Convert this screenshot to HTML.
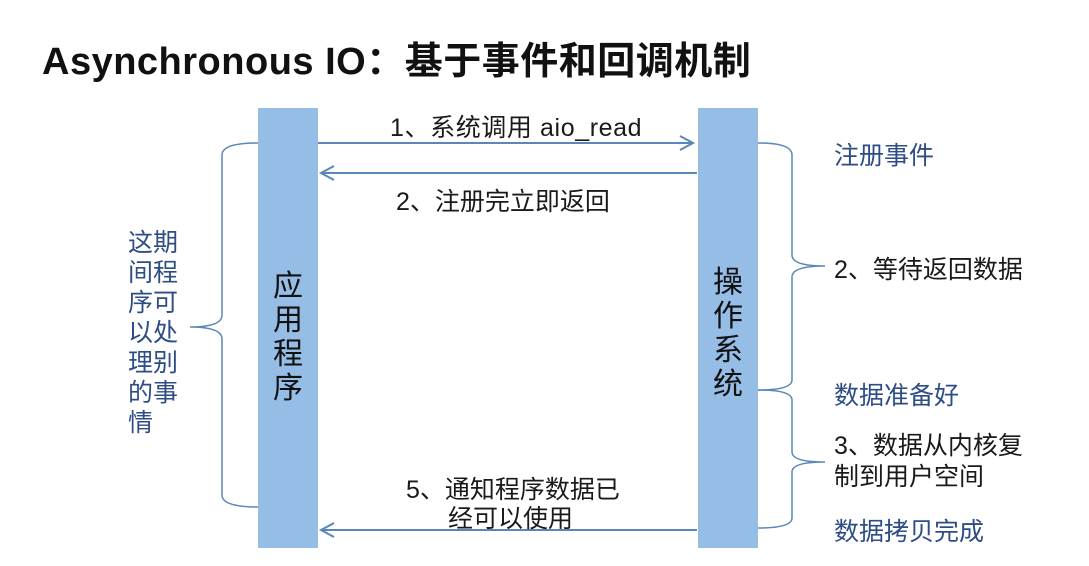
<!DOCTYPE html>
<html><head><meta charset="utf-8"><style>
body{margin:0;width:1089px;height:566px;background:#fff;position:relative;overflow:hidden;font-family:"Liberation Sans","Noto Sans CJK SC",sans-serif;}
.t{position:absolute;white-space:nowrap;color:#1a1a1a;font-size:25px;}
.b{color:#2e4d85;}
.bar{position:absolute;background:#95bde6;width:60px;top:108px;height:440px;}
.vt{position:absolute;font-size:30px;line-height:34px;width:60px;text-align:center;color:#111;}
</style></head><body>
<div class="t" style="left:42px;top:30px;font-size:38px;font-weight:bold;color:#111;letter-spacing:0.5px;">Asynchronous IO：基于事件和回调机制</div>
<div class="bar" style="left:258px;"></div>
<div class="bar" style="left:698px;"></div>
<div class="vt" style="left:258px;top:270px;">应<br>用<br>程<br>序</div>
<div class="vt" style="left:698px;top:266px;">操<br>作<br>系<br>统</div>
<svg width="1089" height="566" style="position:absolute;left:0;top:0" fill="none" stroke="#5b86b8" stroke-width="2">
<line x1="318" y1="143" x2="692" y2="143"/><polyline points="680,136 693,143 680,150"/>
<line x1="697" y1="173" x2="322" y2="173"/><polyline points="334,166 321,173 334,180"/>
<line x1="697" y1="530" x2="322" y2="530"/><polyline points="334,523 321,530 334,537"/>
<path d="M258,143 Q222,143 222,155 L222,315 Q222,327 190,327 Q222,327 222,339 L222,495 Q222,507 258,507" stroke-width="1.5"/>
<path d="M758,143 Q792,143 792,155 L792,255 Q792,266 825,266 Q792,266 792,277 L792,380 Q792,390 758,390" stroke-width="1.5"/>
<path d="M758,390 Q792,390 792,400 L792,452 Q792,462 825,462 Q792,462 792,472 L792,518 Q792,528 758,528" stroke-width="1.5"/>
</svg>
<div class="t" style="left:390px;top:108px;letter-spacing:0.6px;">1、系统调用 aio_read</div>
<div class="t" style="left:396px;top:182px;">2、注册完立即返回</div>
<div class="t" style="left:406px;top:470px;">5、通知程序数据已</div>
<div class="t" style="left:448px;top:499px;">经可以使用</div>
<div class="t b" style="left:128px;top:228px;line-height:30px;">这期<br>间程<br>序可<br>以处<br>理别<br>的事<br>情</div>
<div class="t b" style="left:834px;top:136px;">注册事件</div>
<div class="t" style="left:834px;top:250px;">2、等待返回数据</div>
<div class="t b" style="left:834px;top:376px;">数据准备好</div>
<div class="t" style="left:834px;top:431px;line-height:31px;">3、数据从内核复<br>制到用户空间</div>
<div class="t b" style="left:834px;top:512px;">数据拷贝完成</div>
</body></html>
